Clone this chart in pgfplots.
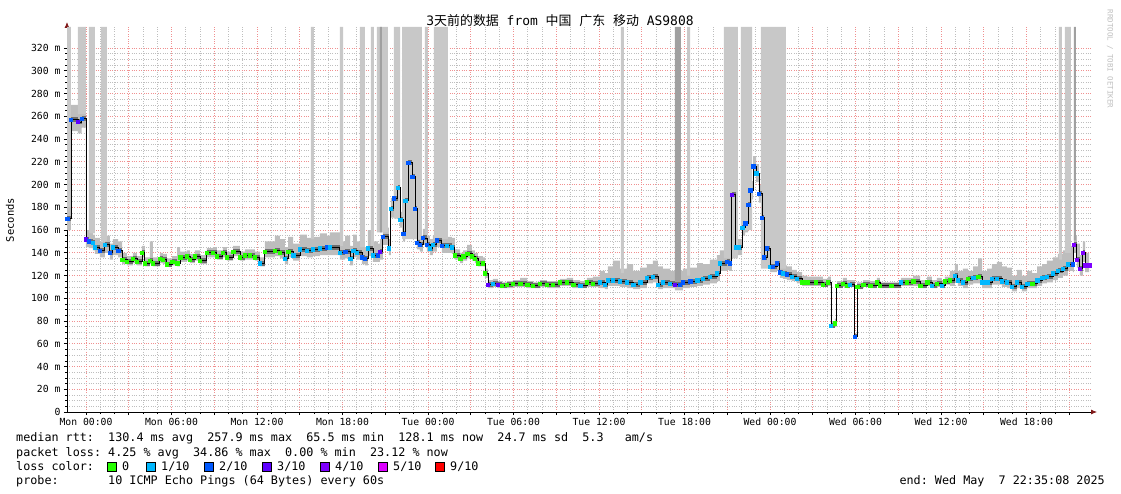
\documentclass[border=0pt]{standalone}
\usepackage{fontspec}
\setmainfont{DejaVu Sans Mono}
\newfontfamily\cjk{Noto Sans CJK SC}
\usepackage{pgfplots}
\usepackage{pgfplotstable}
\pgfplotsset{compat=1.18}
\usepgfplotslibrary{fillbetween}
\usetikzlibrary{arrows.meta}

\definecolor{lc0}{HTML}{26FF00}
\definecolor{lc1}{HTML}{00B8FF}
\definecolor{lc2}{HTML}{0059FF}
\definecolor{lc3}{HTML}{5E00FF}
\definecolor{lc4}{HTML}{7E00FF}
\definecolor{lc5}{HTML}{DD00FF}
\definecolor{lc9}{HTML}{FF0000}
\definecolor{lossbar}{HTML}{C8C8C8}
\definecolor{lossdark}{HTML}{A0A0A0}
\definecolor{smoke}{HTML}{BDBDBD}
\definecolor{smokedark}{HTML}{6E6E6E}
\definecolor{gridmaj}{HTML}{F09090}
\definecolor{gridmin}{HTML}{BEBEBE}
\definecolor{arrowred}{HTML}{801818}

% hours from Mon 00:00, median rtt (ms), smoke low/high, loss class
\pgfplotstableread{
h med lo hi cls
-1.33 170 160 185 b
-1.05 257 247 270 b
-0.56 255 245 262 v
-0.30 258 250 265 b
0.00 152 145 160 v
0.21 150 144 158 b
0.49 149 142 156 c
0.63 145 139 153 c
0.98 142 136 150 b
1.33 147 140 155 c
1.68 140 134 148 b
1.89 145 138 152 c
2.25 142 136 150 b
2.53 134 130 140 g
2.88 132 129 137 g
3.30 135 131 140 g
3.58 132 129 137 g
3.93 140 136 146 g
4.14 131 128 136 g
4.49 133 130 150 g
4.70 131 128 136 g
5.19 135 131 140 g
5.40 134 130 139 g
5.68 130 128 135 g
6.04 132 129 137 g
6.39 131 128 145 g
6.60 136 132 141 g
7.09 137 133 142 g
7.30 134 131 139 g
7.65 137 133 142 g
8.00 133 130 138 g
8.49 140 136 144 g
8.91 140 136 145 g
9.19 137 134 142 g
9.61 140 136 145 g
9.89 136 133 141 g
10.32 141 137 146 g
10.81 136 133 141 g
11.16 138 134 143 g
11.51 138 134 143 g
11.86 136 133 141 g
12.21 131 128 136 c
12.56 141 136 150 g
13.26 142 137 155 g
13.61 140 135 152 g
13.96 135 130 145 c
14.18 141 136 154 g
14.53 138 133 148 c
15.02 143 137 156 c
15.51 142 136 153 c
15.93 143 137 154 c
16.42 144 138 157 c
16.91 145 138 155 b
17.12 145 138 158 c
17.82 140 134 150 c
18.18 141 135 155 b
18.53 135 129 146 c
18.74 142 136 156 c
19.02 140 134 150 c
19.37 136 130 147 b
19.58 135 129 145 b
19.79 144 137 160 c
20.14 138 132 150 c
20.49 138 132 148 b
20.63 141 134 152 v
20.84 154 147 162 b
21.26 144 138 152 c
21.40 179 171 188 c
21.61 188 180 196 b
21.89 197 190 205 c
22.04 169 162 176 c
22.25 157 150 164 b
22.39 186 178 194 c
22.60 219 210 228 b
22.88 207 199 215 b
23.09 179 171 187 b
23.23 149 143 157 b
23.44 147 141 155 b
23.65 153 147 161 b
23.93 147 141 155 b
24.14 144 138 152 c
24.35 147 141 155 c
24.63 151 145 159 b
24.98 146 140 154 b
25.33 146 140 154 c
25.68 145 139 153 c
25.89 138 134 143 g
26.25 135 131 140 g
26.46 137 133 142 g
26.74 139 135 147 g
27.09 137 133 142 g
27.30 135 131 140 g
27.51 131 128 137 g
27.86 131 128 136 g
28.00 122 118 126 g
28.21 112 109 116 v
28.56 113 110 117 c
28.91 112 109 115 v
29.19 111 109 114 g
29.54 112 109 115 g
29.96 113 110 116 g
30.46 113 110 118 g
30.95 112 109 115 g
31.37 111 109 114 g
31.86 113 110 116 g
32.35 112 109 115 g
32.77 112 109 115 g
33.26 114 111 117 g
33.75 114 111 118 g
34.18 112 109 116 g
34.67 111 109 115 c
35.16 114 110 118 g
35.58 113 110 119 g
36.07 114 109 124 c
36.42 112 108 122 c
36.63 116 111 128 c
36.98 116 111 133 c
37.47 115 110 126 c
37.96 114 109 130 c
38.39 112 108 124 c
38.88 114 109 127 c
39.37 118 113 130 c
39.79 119 114 133 c
40.14 112 108 128 c
40.49 114 109 126 c
40.98 113 109 124 c
41.33 112 107 122 v
41.68 112 107 124 b
41.89 114 109 126 b
42.39 115 110 127 b
42.88 116 111 131 c
43.30 117 112 130 c
43.79 119 113 134 c
44.28 122 115 138 c
44.49 131 124 142 c
44.98 132 125 143 b
45.19 131 124 142 b
45.33 191 185 197 v
45.61 145 138 152 c
45.82 145 138 152 c
46.04 162 155 170 c
46.25 166 158 174 b
46.46 182 174 190 b
46.60 195 187 203 b
46.81 216 208 225 b
47.02 210 202 218 c
47.23 192 184 200 b
47.44 171 163 179 b
47.58 136 130 143 b
47.79 144 137 151 b
48.00 128 123 135 c
48.21 128 123 135 b
48.49 131 125 138 b
48.70 123 118 130 b
48.91 122 117 129 c
49.19 121 116 128 b
49.54 119 115 125 c
49.89 117 113 123 c
50.25 114 111 120 g
50.60 114 111 119 g
51.23 114 111 119 g
51.72 112 110 117 g
52.07 114 111 119 g
52.28 76 74 80 c
52.56 78 75 82 g
52.70 111 109 115 g
53.12 113 110 118 g
53.40 111 109 116 g
53.61 112 110 116 c
53.96 66 64 69 b
54.11 110 108 114 g
54.53 112 110 116 g
55.02 111 109 115 g
55.51 114 111 118 g
55.72 111 109 114 g
56.50 111 109 114 g
57.19 114 111 118 c
57.61 114 111 118 g
58.04 115 111 120 g
58.53 111 109 116 g
59.02 114 111 119 g
59.37 111 109 116 c
59.72 113 110 118 g
60.07 111 109 116 c
60.28 115 112 119 g
60.63 116 111 124 g
60.98 120 114 130 c
61.19 116 111 124 c
61.54 114 109 126 c
61.89 117 112 124 g
62.25 118 113 128 c
62.60 119 113 135 g
62.88 114 109 124 c
63.23 114 109 126 c
63.58 117 112 130 c
63.93 117 112 132 c
64.28 115 110 128 c
64.63 114 109 127 c
64.98 110 106 120 c
65.33 114 109 125 c
65.68 110 106 120 c
66.04 113 109 124 c
66.39 113 109 122 g
66.74 116 111 128 c
67.09 118 113 130 c
67.44 119 114 133 c
67.86 122 116 136 c
68.21 124 118 139 c
68.56 126 120 142 c
68.91 130 124 146 c
69.26 130 123 145 b
69.33 147 140 155 p
69.54 134 127 148 p
69.75 126 120 138 p
69.96 140 132 150 p
70.11 129 123 140 p
70.40 129 123 140 p
}\rtt

% loss bar: from x1 to x2, from y up to the top
\newcommand{\lossbar}[4][lossbar]{%
  \addplot[draw=none, fill=#1] coordinates {(#2,#4) (#2,338.5) (#3,338.5) (#3,#4) (#2,#4)};}

\begin{document}
\begin{tikzpicture}
\begin{axis}[
  scale only axis,
  width=1025bp, height=385bp,
  at={(0,0)}, anchor=south west,
  xmin=-1.33, xmax=70.6,
  ymin=0, ymax=338.5,
  axis lines=left,
  axis line style={line width=0.8bp, shorten >=-5bp, -{Latex[length=6bp,width=5bp,color=arrowred]}},
  xtick={0,3,...,69},
  xticklabels={Mon 00:00,,Mon 06:00,,Mon 12:00,,Mon 18:00,,Tue 00:00,,Tue 06:00,,Tue 12:00,,Tue 18:00,,Wed 00:00,,Wed 06:00,,Wed 12:00,,Wed 18:00,},
  minor x tick num=2,
  ytick={0,20,...,320},
  yticklabels={0,20 m,40 m,60 m,80 m,100 m,120 m,140 m,160 m,180 m,200 m,220 m,240 m,260 m,280 m,300 m,320 m},
  minor y tick num=3,
  grid=both,
  major grid style={gridmaj, dotted, line width=0.7bp},
  minor grid style={gridmin, dotted, line width=0.6bp},
  tick align=outside,
  tick style={black, line width=0.6bp},
  major tick length=3bp, minor tick length=2bp,
  ticklabel style={font=\fontsize{9.8}{11}\selectfont},
]
\lossbar{-1.33}{-1.05}{180}
\lossbar{-0.56}{0}{262}
\lossbar{0.21}{0.63}{157}
\lossbar{1.05}{1.47}{150}
\lossbar{15.79}{16.00}{152}
\lossbar{17.82}{18.04}{146}
\lossbar{19.23}{19.58}{145}
\lossbar{20.00}{20.21}{144}
\lossbar{20.42}{21.19}{158}
\lossbar[lossdark]{20.63}{20.77}{158}
\lossbar{21.61}{22.04}{170}
\lossbar{22.18}{23.58}{152}
\lossbar{23.79}{24.00}{155}
\lossbar{24.42}{25.40}{152}
\lossbar{37.54}{37.75}{122}
\lossbar[lossdark]{41.33}{41.75}{114}
\lossbar{42.18}{42.39}{120}
\lossbar{44.77}{45.75}{135}
\lossbar{45.96}{46.74}{160}
\lossbar{47.37}{49.12}{126}
\lossbar{68.28}{68.49}{134}
\lossbar{68.70}{69.12}{140}
\lossbar[lossdark]{69.33}{69.47}{151}

% smoke
\addplot[name path=hi, const plot, draw=none] table[x=h, y=hi] {\rtt};
\addplot[name path=lo, const plot, draw=none] table[x=h, y=lo] {\rtt};
\addplot[smoke] fill between[of=hi and lo];
\addplot[jump mark left, smokedark, line width=5bp] table[x=h, y=med] {\rtt};

% median
\addplot[const plot, black, line width=0.9bp] table[x=h, y=med] {\rtt};
\addplot[scatter, only marks, point meta=explicit symbolic,
  scatter/classes={
    g={mark=square*, lc0},
    c={mark=square*, lc1},
    b={mark=square*, lc2},
    v={mark=square*, lc3},
    p={mark=square*, lc4}},
  mark size=1.7bp]
  table[x=h, y=med, meta=cls] {\rtt};
\end{axis}

\node[font=\fontsize{13}{15}\selectfont] at (493bp,391bp)
  {3{\cjk 天前的数据} from {\cjk 中国} {\cjk 广东} {\cjk 移动} AS9808};
\node[rotate=90, font=\fontsize{10.5}{12}\selectfont] at (-57bp,192bp) {Seconds};
\node[rotate=-90, font=\fontsize{7.5}{9}\selectfont, text=gray!50] at (1043bp,353bp) {RRDTOOL / TOBI OETIKER};

\begin{scope}[every node/.style={anchor=base west, inner sep=0pt, font=\fontsize{11.8}{14}\selectfont\frenchspacing}]
\node at (-51bp,-29bp) {median rtt:\ \ 130.4 ms avg\ \ 257.9 ms max\ \ 65.5 ms min\ \ 128.1 ms now\ \ 24.7 ms sd\ \ 5.3\ \ \ am/s};
\node at (-51bp,-44bp) {packet loss: 4.25 \% avg\ \ 34.86 \% max\ \ 0.00 \% min\ \ 23.12 \% now};
\node at (-51bp,-58bp) {loss color:};
\node at (-51bp,-72bp) {probe:\ \ \ \ \ \ \ 10 ICMP Echo Pings (64 Bytes) every 60s};
\node[anchor=base east] at (1038bp,-72bp) {end: Wed May\ \ 7 22:35:08 2025};
\foreach \c/\t/\x in {lc0/0/40, lc1/1\slash 10/79, lc2/2\slash 10/137, lc3/3\slash 10/195, lc4/4\slash 10/253, lc5/5\slash 10/311, lc9/9\slash 10/368}{
  \draw[black, line width=0.8bp, fill=\c] (\x bp,-59bp) rectangle ++(9bp,9bp);
  \node at (\x bp+15bp,-58bp) {\t};
}
\end{scope}
\pgfresetboundingbox
\useasboundingbox (-67bp,-82bp) rectangle (1054bp,412bp);
\end{tikzpicture}
\end{document}
